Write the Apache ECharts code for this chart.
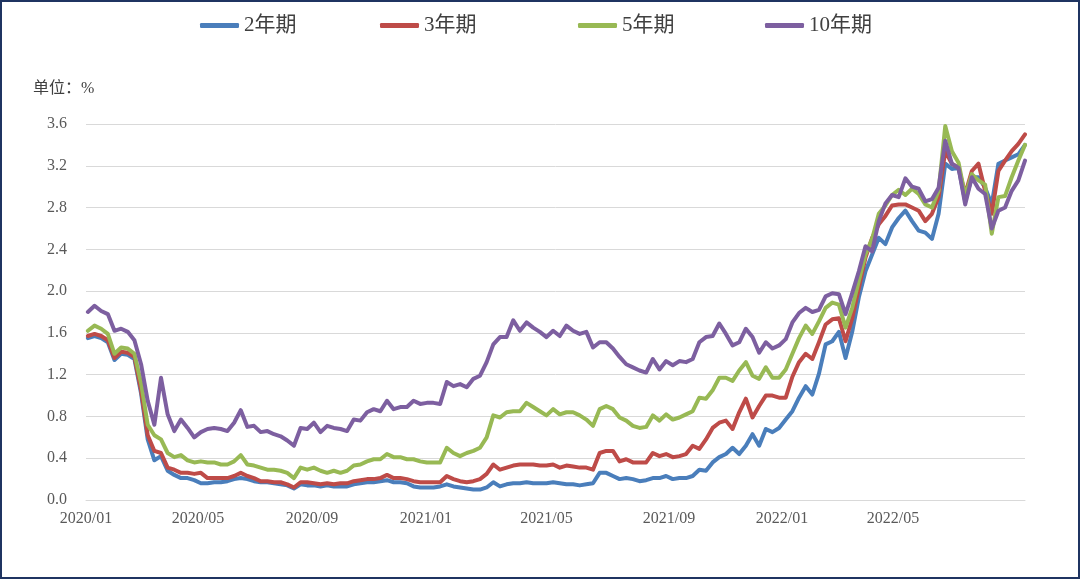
<!DOCTYPE html>
<html>
<head>
<meta charset="utf-8">
<script src="https://cdn.jsdelivr.net/npm/echarts@6/dist/echarts.min.js"></script>
<style>
  html, body { margin: 0; padding: 0; background: #fff; }
  #wrap { position: relative; width: 1080px; height: 579px; }
  #yields { width: 1080px; height: 579px; }
  #frame { position: absolute; left: 0; top: 0; right: 0; bottom: 0; border: 2px solid #1f3461; pointer-events: none; }
</style>
</head>
<body>
<div id="wrap">
  <div id="yields"></div>
  <div id="frame"></div>
</div>
<script>
// weekly samples
var dates = [
  '2020-01-03','2020-01-10','2020-01-17','2020-01-24','2020-01-31','2020-02-07','2020-02-14','2020-02-21','2020-02-28','2020-03-06',
  '2020-03-13','2020-03-20','2020-03-27','2020-04-03','2020-04-10','2020-04-17','2020-04-24','2020-05-01','2020-05-08','2020-05-15',
  '2020-05-22','2020-05-29','2020-06-05','2020-06-12','2020-06-19','2020-06-26','2020-07-03','2020-07-10','2020-07-17','2020-07-24',
  '2020-07-31','2020-08-07','2020-08-14','2020-08-21','2020-08-28','2020-09-04','2020-09-11','2020-09-18','2020-09-25','2020-10-02',
  '2020-10-09','2020-10-16','2020-10-23','2020-10-30','2020-11-06','2020-11-13','2020-11-20','2020-11-27','2020-12-04','2020-12-11',
  '2020-12-18','2020-12-25','2021-01-01','2021-01-08','2021-01-15','2021-01-22','2021-01-29','2021-02-05','2021-02-12','2021-02-19',
  '2021-02-26','2021-03-05','2021-03-12','2021-03-19','2021-03-26','2021-04-02','2021-04-09','2021-04-16','2021-04-23','2021-04-30',
  '2021-05-07','2021-05-14','2021-05-21','2021-05-28','2021-06-04','2021-06-11','2021-06-18','2021-06-25','2021-07-02','2021-07-09',
  '2021-07-16','2021-07-23','2021-07-30','2021-08-06','2021-08-13','2021-08-20','2021-08-27','2021-09-03','2021-09-10','2021-09-17',
  '2021-09-24','2021-10-01','2021-10-08','2021-10-15','2021-10-22','2021-10-29','2021-11-05','2021-11-12','2021-11-19','2021-11-26',
  '2021-12-03','2021-12-10','2021-12-17','2021-12-24','2021-12-31','2022-01-07','2022-01-14','2022-01-21','2022-01-28','2022-02-04',
  '2022-02-11','2022-02-18','2022-02-25','2022-03-04','2022-03-11','2022-03-18','2022-03-25','2022-04-01','2022-04-08','2022-04-15',
  '2022-04-22','2022-04-29','2022-05-06','2022-05-13','2022-05-20','2022-05-27','2022-06-03','2022-06-10','2022-06-17','2022-06-24',
  '2022-07-01','2022-07-08','2022-07-15','2022-07-22','2022-07-29','2022-08-05','2022-08-12','2022-08-19','2022-08-26','2022-09-02',
  '2022-09-09','2022-09-16'
];

var y2 = [
  1.55,1.57,1.55,1.51,1.34,1.40,1.39,1.35,1.02,0.58,
  0.38,0.42,0.28,0.24,0.21,0.21,0.19,0.16,0.16,0.17,
  0.17,0.18,0.20,0.21,0.20,0.18,0.17,0.17,0.16,0.15,
  0.14,0.11,0.15,0.14,0.14,0.13,0.14,0.13,0.13,0.13,
  0.15,0.16,0.17,0.17,0.18,0.19,0.17,0.17,0.16,0.13,
  0.12,0.12,0.12,0.13,0.15,0.13,0.12,0.11,0.10,0.10,
  0.12,0.17,0.13,0.15,0.16,0.16,0.17,0.16,0.16,0.16,
  0.17,0.16,0.15,0.15,0.14,0.15,0.16,0.26,0.26,0.23,
  0.20,0.21,0.20,0.18,0.19,0.21,0.21,0.23,0.20,0.21,
  0.21,0.23,0.29,0.28,0.36,0.41,0.44,0.50,0.44,0.52,
  0.63,0.52,0.68,0.65,0.69,0.77,0.85,0.98,1.09,1.01,
  1.21,1.49,1.52,1.61,1.36,1.61,1.94,2.19,2.35,2.51,
  2.45,2.61,2.70,2.77,2.67,2.58,2.56,2.50,2.74,3.22,
  3.17,3.18,2.86,3.09,3.09,2.99,2.83,3.22,3.25,3.28,
  3.31,3.40
];

var y3 = [
  1.57,1.59,1.57,1.53,1.36,1.42,1.41,1.37,1.05,0.62,
  0.47,0.45,0.31,0.29,0.26,0.26,0.25,0.26,0.21,0.21,
  0.21,0.21,0.23,0.26,0.23,0.21,0.18,0.18,0.17,0.17,
  0.15,0.12,0.17,0.17,0.16,0.15,0.16,0.15,0.16,0.16,
  0.18,0.19,0.20,0.20,0.21,0.24,0.21,0.21,0.20,0.18,
  0.17,0.17,0.17,0.17,0.23,0.20,0.18,0.17,0.18,0.20,
  0.25,0.34,0.29,0.31,0.33,0.34,0.34,0.34,0.33,0.33,
  0.34,0.31,0.33,0.32,0.31,0.31,0.29,0.45,0.47,0.47,
  0.37,0.39,0.36,0.36,0.36,0.45,0.42,0.44,0.41,0.42,
  0.44,0.52,0.49,0.58,0.69,0.74,0.76,0.68,0.84,0.97,
  0.79,0.90,1.00,1.00,0.98,0.98,1.18,1.32,1.40,1.35,
  1.51,1.68,1.73,1.74,1.52,1.74,2.03,2.32,2.51,2.64,
  2.72,2.82,2.83,2.83,2.80,2.77,2.67,2.74,2.90,3.34,
  3.22,3.18,2.93,3.15,3.22,2.96,2.74,3.15,3.25,3.34,
  3.41,3.50
];

var y5 = [
  1.62,1.67,1.64,1.59,1.40,1.46,1.45,1.40,1.12,0.72,
  0.62,0.58,0.45,0.41,0.43,0.38,0.36,0.37,0.36,0.36,
  0.34,0.34,0.37,0.43,0.34,0.33,0.31,0.29,0.29,0.28,
  0.26,0.21,0.31,0.29,0.31,0.28,0.26,0.28,0.26,0.28,
  0.33,0.34,0.37,0.39,0.39,0.44,0.41,0.41,0.39,0.39,
  0.37,0.36,0.36,0.36,0.50,0.45,0.42,0.45,0.47,0.50,
  0.60,0.81,0.79,0.84,0.85,0.85,0.93,0.89,0.85,0.81,
  0.87,0.82,0.84,0.84,0.81,0.77,0.71,0.87,0.90,0.87,
  0.79,0.76,0.71,0.69,0.70,0.81,0.76,0.82,0.77,0.79,
  0.82,0.85,0.98,0.97,1.05,1.17,1.17,1.14,1.24,1.32,
  1.19,1.16,1.27,1.17,1.17,1.25,1.40,1.55,1.67,1.59,
  1.71,1.84,1.89,1.87,1.65,1.84,2.10,2.35,2.50,2.74,
  2.82,2.92,2.97,2.92,2.98,2.93,2.83,2.80,2.96,3.58,
  3.34,3.23,2.91,3.12,3.06,3.02,2.55,2.90,2.91,3.09,
  3.25,3.40
];

var y10 = [
  1.80,1.86,1.81,1.78,1.62,1.64,1.61,1.53,1.30,0.95,
  0.72,1.17,0.82,0.66,0.77,0.69,0.60,0.65,0.68,0.69,
  0.68,0.66,0.74,0.86,0.70,0.71,0.65,0.66,0.63,0.61,
  0.57,0.52,0.69,0.68,0.74,0.65,0.71,0.69,0.68,0.66,
  0.77,0.76,0.84,0.87,0.85,0.95,0.87,0.89,0.89,0.95,
  0.92,0.93,0.93,0.92,1.13,1.09,1.11,1.08,1.16,1.19,
  1.32,1.49,1.56,1.56,1.72,1.62,1.70,1.65,1.61,1.56,
  1.62,1.57,1.67,1.62,1.59,1.61,1.46,1.51,1.51,1.45,
  1.37,1.30,1.27,1.24,1.22,1.35,1.25,1.33,1.29,1.33,
  1.32,1.35,1.51,1.56,1.57,1.69,1.59,1.48,1.51,1.64,
  1.56,1.41,1.51,1.45,1.48,1.54,1.70,1.79,1.84,1.80,
  1.82,1.95,1.98,1.97,1.78,1.98,2.19,2.43,2.38,2.67,
  2.84,2.92,2.90,3.08,3.00,2.98,2.86,2.88,2.99,3.44,
  3.22,3.18,2.83,3.09,2.98,2.93,2.60,2.77,2.80,2.96,
  3.06,3.25
];

var seriesNames = ['2年期', '3年期', '5年期', '10年期'];
var tickLabels = ['2020/01', '2020/05', '2020/09', '2021/01', '2021/05', '2021/09', '2022/01', '2022/05'];
var tickDays = [0, 118, 238, 358, 485, 614, 733, 850];
var yTicks = [0, 0.4, 0.8, 1.2, 1.6, 2.0, 2.4, 2.8, 3.2, 3.6];

var day0 = Date.parse('2020-01-01');
function dayOf(s) {
    return Math.round((Date.parse(s) - day0) / 86400000);
}
function pairs(vals) {
    return dates.map(function (d, i) { return [dayOf(d), vals[i]]; });
}

var dom = document.getElementById('yields');
var chart = echarts.init(dom);

var serif = '"Liberation Serif", "Times New Roman", "Noto Sans CJK SC", serif';

// one legend per item so each sits where the original puts it
var legendLeft = [195, 375, 573, 760];
var legends = seriesNames.map(function (name, i) {
    return {
        data: [name],
        left: legendLeft[i],
        top: 10,
        icon: 'roundRect',
        itemWidth: 39,
        itemHeight: 5,
        textStyle: { fontFamily: serif, fontSize: 21, color: '#404040' }
    };
});

var option = {
    animation: false,
    color: ['#4a7ebb', '#be4b48', '#98b954', '#7d5fa0'],
    legend: legends,
    graphic: [{
        type: 'text',
        left: 33,
        top: 81,
        style: { text: '单位：%', font: '16px ' + serif, fill: '#404040' }
    }],
    grid: { left: 86, right: 55, top: 124, bottom: 79, containLabel: false },
    xAxis: {
        type: 'value',
        min: 0,
        max: 989,
        splitLine: { show: false },
        axisTick: { show: false },
        axisLine: { lineStyle: { color: '#d9d9d9', width: 1 } },
        axisLabel: {
            customValues: tickDays,
            margin: 11,
            fontFamily: serif,
            fontSize: 16,
            color: '#595959',
            formatter: function (v) {
                var i = tickDays.indexOf(Math.round(v));
                return i >= 0 ? tickLabels[i] : '';
            }
        }
    },
    yAxis: {
        type: 'value',
        min: yTicks[0],
        max: yTicks[yTicks.length - 1],
        interval: 0.4,
        axisLine: { show: false },
        axisTick: { show: false },
        splitLine: { lineStyle: { color: '#d9d9d9', width: 1 } },
        axisLabel: {
            margin: 19,
            fontFamily: serif,
            fontSize: 16,
            color: '#595959',
            formatter: function (v) { return v.toFixed(1); }
        }
    },
    series: [
        { name: seriesNames[0], type: 'line', data: pairs(y2) },
        { name: seriesNames[1], type: 'line', data: pairs(y3) },
        { name: seriesNames[2], type: 'line', data: pairs(y5) },
        { name: seriesNames[3], type: 'line', data: pairs(y10) }
    ].map(function (s) {
        s.showSymbol = false;
        s.symbol = 'none';
        s.lineStyle = { width: 4, join: 'round', cap: 'round' };
        return s;
    })
};

chart.setOption(option);

window.addEventListener('resize', function () {
    setTimeout(function () { chart.resize(); });
});
</script>
</body>
</html>
